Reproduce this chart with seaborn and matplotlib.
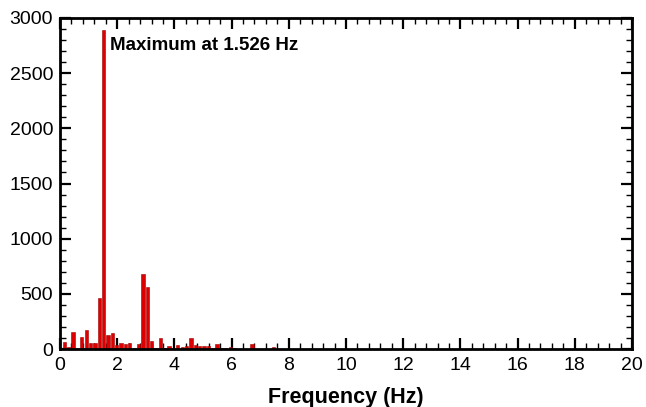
import matplotlib
matplotlib.use("Agg")
import matplotlib.pyplot as plt
from matplotlib.ticker import MultipleLocator
import seaborn as sns
import pandas as pd

freq = [0.153, 0.305, 0.458, 0.610, 0.763, 0.916, 1.068, 1.221, 1.373, 1.526,
        1.679, 1.831, 1.984, 2.136, 2.289, 2.442, 2.594, 2.747, 2.899, 3.052,
        3.205, 3.357, 3.510, 3.662, 3.815, 3.968, 4.120, 4.273, 4.425, 4.578,
        4.731, 4.883, 5.036, 5.188, 5.341, 5.494, 5.646, 5.799, 5.951, 6.104,
        6.257, 6.409, 6.562, 6.714, 6.867, 7.020, 7.172, 7.325, 7.477]
amp = [60, 15, 155, 5, 110, 170, 50, 50, 460, 2890,
       130, 145, 40, 50, 42, 57, 10, 45, 684, 560,
       70, 10, 103, 10, 30, 10, 36, 20, 27, 100,
       36, 30, 27, 27, 10, 42, 10, 5, 18, 5,
       3, 3, 3, 45, 3, 3, 3, 3, 18]
annotation = "Maximum at 1.526 Hz"
xticks = [0, 2, 4, 6, 8, 10, 12, 14, 16, 18, 20]
yticks = [0, 500, 1000, 1500, 2000, 2500, 3000]

sns.set_style("ticks")
plt.rcParams["font.family"] = ["Liberation Sans", "DejaVu Sans"]
plt.rcParams["text.color"] = "black"
plt.rcParams["xtick.color"] = "black"
plt.rcParams["ytick.color"] = "black"
plt.rcParams["axes.labelcolor"] = "black"

fig = plt.figure(figsize=(6.46, 4.07), dpi=100)
ax = fig.add_axes([60 / 646, 1 - 349 / 407, (632 - 60) / 646, (349 - 18) / 407])

df = pd.DataFrame({"Frequency": freq, "Amplitude": amp})
sns.barplot(data=df, x="Frequency", y="Amplitude", native_scale=True,
            width=0.75, color="#dc0000", saturation=1, edgecolor="#a00000",
            linewidth=0.4, ax=ax)

ax.set_xlim(0, 20)
ax.set_ylim(0, 3000)
ax.set_xticks(xticks)
ax.set_yticks(yticks)
ax.set_xticklabels([str(t) for t in xticks])
ax.set_yticklabels([str(t) for t in yticks])
ax.xaxis.set_minor_locator(MultipleLocator(0.4))
ax.yaxis.set_minor_locator(MultipleLocator(100))
ax.tick_params(which="both", direction="in", top=True, right=True,
               labelsize=14, color="black", width=1.6)
ax.tick_params(axis="x", which="major", pad=6)
ax.tick_params(axis="y", which="major", pad=5)
ax.tick_params(which="major", length=8)
ax.tick_params(which="minor", length=4, width=1.0)
for s in ax.spines.values():
    s.set_linewidth(2.0)
    s.set_color("black")

ax.set_xlabel("Frequency (Hz)", fontsize=15.5, fontweight="bold", labelpad=9)
ax.set_ylabel("")
ax.text(1.75, 2750, annotation, fontsize=13.5, fontweight="bold",
        va="center", ha="left")

fig.savefig("out.png", dpi=100)
